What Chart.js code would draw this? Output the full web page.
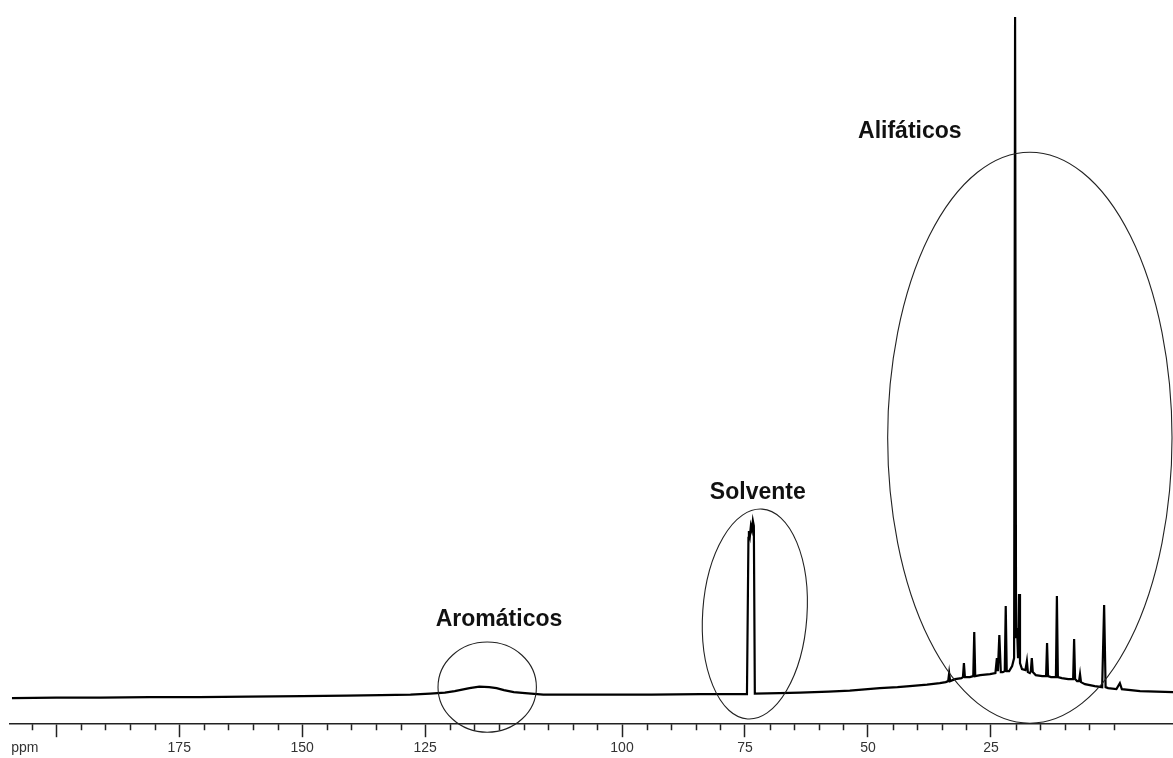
<!DOCTYPE html>
<html>
<head>
<meta charset="utf-8">
<script src="https://cdn.jsdelivr.net/npm/chart.js@4.4.1/dist/chart.umd.min.js"></script>
<style>
  html, body { margin: 0; padding: 0; background: #fff; }
  #wrap { width: 1173px; height: 758px; position: relative; }
</style>
</head>
<body>
<div id="wrap"><canvas id="nmr"></canvas></div>
<script>
// ── Spectrum (13C NMR) ──
const ppm = [
  224.0, 215, 206, 196, 186, 176, 165, 156, 149, 143, 139, 136, 134, 131, 129, 127, 125.5, 124, 122, 119.7,
  116, 110, 104.5, 94, 84, 78, 74.6,
  74.3, 74.2, 74.0, 73.8, 73.6, 73.4, 73.2, 73.0,
  68, 63.8, 58, 53.7, 47.6, 44, 41.5, 38, 35.4, 34.2,
  33.7, 33.5, 33.3,
  32.3, 31.0, 30.7, 30.5, 30.3,
  29.3, 28.6, 28.4, 28.2, 27.2, 25.2,
  24.1, 23.8, 23.6, 23.3, 23.0, 22.6, 22.2, 22.0, 21.8, 21.3,
  20.7, 20.3, 20.1, 19.9, 19.7, 19.5, 19.3, 19.1, 18.7,
  18.0, 17.7, 17.5, 17.1, 16.9, 16.7, 16.5, 15.9, 14.6,
  13.8, 13.6, 13.4, 12.8, 11.8, 11.6, 11.4, 10.6, 9.3,
  8.3, 8.1, 7.9, 7.5, 7.1, 6.9, 6.7, 5.9, 3.9, 2.4,
  2.0, 1.7, 1.2, -0.5, -1.2, -1.6, -5.3, -12
];
const intensity = [
  0, 0.5, 0.5, 1, 1, 1.5, 2, 2.5, 3, 3.5, 4.5, 5.5, 7, 10, 11.5, 11, 10, 8, 6, 5,
  3.5, 3.5, 3.5, 3.5, 4, 4, 4,
  160, 167, 162, 172, 168, 177, 172, 4.5,
  5, 5.5, 6.5, 7.5, 10, 11, 12, 13.5, 15, 16,
  17, 25, 17,
  19, 20, 21, 35, 21,
  21, 22, 66, 22, 23, 24,
  25, 40, 27, 63, 26, 26, 27, 92, 27, 27,
  32, 40, 680, 60, 70, 40, 104, 35, 29,
  28, 37, 26, 25, 27, 40, 26, 23, 22,
  22, 55, 22, 21, 21, 102, 21, 20, 19,
  19, 59, 19, 17, 17, 24, 16, 14, 12, 11,
  93, 11, 10, 9, 15, 9, 7, 6
];

// ruler: long ticks and their printed labels (the left labels are offset in the original)
const majorTicks = [25, 50, 75, 100, 140, 165, 190, 215, 221.4];
const majorLabels = ['25', '50', '75', '100', '125', '150', '175', '', 'ppm'];

// circled regions and their captions
const regions = [
  { name: 'Aromáticos', labelPpm: 125.0, labelY: 72, cx: 127.4, cy: 11, rx: 10.0, ry: 45, rot: 0 },
  { name: 'Solvente', labelPpm: 72.4, labelY: 199, cx: 73.0, cy: 84, rx: 10.6, ry: 105, rot: 4 },
  { name: 'Alifáticos', labelPpm: 41.5, labelY: 559, cx: 17.1, cy: 260, rx: 28.9, ry: 285, rot: 0 }
];

const points = ppm.map((p, i) => ({ x: p, y: intensity[i] }));

// ── plugin: minor ruler ticks, circles and captions ──
const annotate = {
  id: 'annotate',
  afterDraw(chart) {
    const ctx = chart.ctx;
    const xs = chart.scales.x;
    const ys = chart.scales.y;

    // minor ticks every 5 ppm
    ctx.save();
    ctx.strokeStyle = '#222';
    ctx.lineWidth = 1.5;
    ctx.beginPath();
    for (let v = 0; v <= 225; v += 5) {
      if (majorTicks.indexOf(v) >= 0) continue;
      const px = Math.round(xs.getPixelForValue(v)) + 0.5;
      if (px < chart.chartArea.left || px > chart.chartArea.right) continue;
      ctx.moveTo(px, xs.top);
      ctx.lineTo(px, xs.top + 6);
    }
    ctx.stroke();
    ctx.restore();

    regions.forEach(r => {
      const cx = xs.getPixelForValue(r.cx);
      const cy = ys.getPixelForValue(r.cy);
      const rx = Math.abs(xs.getPixelForValue(r.cx + r.rx) - cx);
      const ry = Math.abs(ys.getPixelForValue(r.cy + r.ry) - cy);
      ctx.save();
      ctx.strokeStyle = '#222';
      ctx.lineWidth = 1.1;
      ctx.beginPath();
      ctx.ellipse(cx, cy, rx, ry, r.rot * Math.PI / 180, 0, Math.PI * 2);
      ctx.stroke();

      ctx.fillStyle = '#111';
      ctx.font = 'bold 23px "Liberation Sans", Arial, sans-serif';
      ctx.textAlign = 'center';
      ctx.textBaseline = 'alphabetic';
      ctx.fillText(r.name, xs.getPixelForValue(r.labelPpm), ys.getPixelForValue(r.labelY));
      ctx.restore();
    });
  }
};

new Chart(document.getElementById('nmr'), {
  type: 'line',
  data: {
    datasets: [{
      data: points,
      borderColor: '#000',
      borderWidth: 2.2,
      pointRadius: 0,
      tension: 0,
      fill: false
    }]
  },
  options: {
    responsive: true,
    maintainAspectRatio: false,
    animation: false,
    layout: { padding: { left: 10, right: 0, top: 0, bottom: -2 } },
    plugins: { legend: { display: false }, tooltip: { enabled: false } },
    scales: {
      x: {
        type: 'linear',
        reverse: true,
        min: -12,
        max: 224.4,
        afterBuildTicks: s => { s.ticks = majorTicks.map(v => ({ value: v })); },
        grid: {
          drawOnChartArea: false,
          drawTicks: true,
          tickLength: 13,
          tickWidth: 1.5,
          tickColor: c => (c.tick && c.tick.value === 221.4) ? 'rgba(0,0,0,0)' : '#222'
        },
        border: { display: true, color: '#222', width: 1.5 },
        ticks: {
          autoSkip: false,
          maxRotation: 0,
          padding: 3,
          color: '#333',
          font: { family: '"Liberation Sans", Arial, sans-serif', size: 14 },
          callback: v => {
            const i = majorTicks.indexOf(v);
            return i >= 0 ? majorLabels[i] : '';
          }
        }
      },
      y: {
        display: false,
        min: -26,
        max: 697
      }
    }
  },
  plugins: [annotate]
});
</script>
</body>
</html>
